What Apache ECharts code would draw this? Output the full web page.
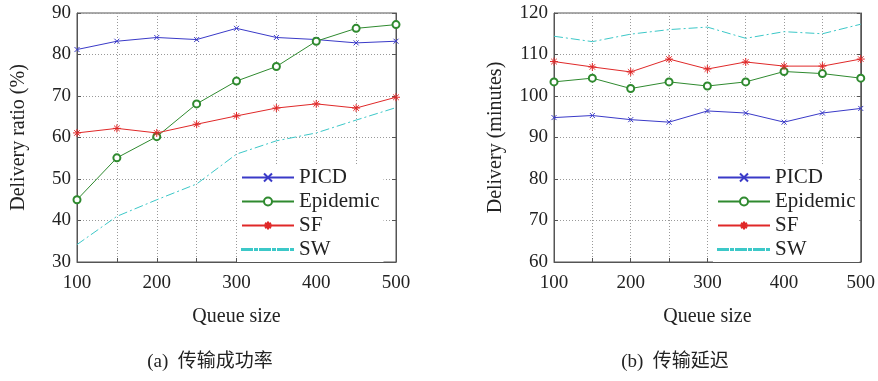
<!DOCTYPE html>
<html>
<head>
<meta charset="utf-8">
<script src="https://cdn.jsdelivr.net/npm/echarts@6/dist/echarts.min.js"></script>
<style>
  html, body { margin: 0; padding: 0; background: #fff; }
  #main { width: 878px; height: 381px; }
</style>
</head>
<body>
<div id="main"></div>
<script>
// queue sizes on the x axis
var queueSize = [100, 150, 200, 250, 300, 350, 400, 450, 500];
var seriesNames = ['PICD', 'Epidemic', 'SF', 'SW'];

// (a) delivery ratio (%)
var ratioPICD = [81.2, 83.2, 84.1, 83.6, 86.3, 84.1, 83.6, 82.8, 83.2];
var ratioEpidemic = [45.0, 55.1, 60.2, 68.1, 73.6, 77.1, 83.2, 86.3, 87.2];
var ratioSF = [61.1, 62.2, 61.1, 63.2, 65.2, 67.1, 68.1, 67.1, 69.7];
var ratioSW = [34.2, 41.0, 45.0, 48.8, 56.0, 59.2, 61.1, 64.2, 67.2];

// (b) delivery delay (minutes)
var delayPICD = [94.8, 95.3, 94.3, 93.7, 96.4, 95.9, 93.7, 95.9, 97.0];
var delayEpidemic = [103.4, 104.3, 101.8, 103.4, 102.4, 103.4, 105.9, 105.4, 104.3];
var delaySF = [108.3, 107.0, 105.8, 108.9, 106.5, 108.2, 107.2, 107.2, 108.9];
var delaySW = [114.4, 113.1, 114.9, 116.0, 116.6, 113.9, 115.5, 115.0, 117.3];

var font = '"Liberation Serif", "Times New Roman", serif';
var colors = { PICD: '#3a3ac8', Epidemic: '#2f8a2f', SF: '#e02828', SW: '#3cc8c8' };
var symbols = {
    PICD: 'path://M0,0L10,10M10,0L0,10',
    Epidemic: 'emptyCircle',
    SF: 'path://M5,0L5,10M0,5L10,5M1.5,1.5L8.5,8.5M8.5,1.5L1.5,8.5',
    SW: 'none'
};
var sizes = { PICD: 5, Epidemic: 7, SF: 8, SW: 0 };
// dash-dot sample for the SW legend entry (52 x 10 box)
var swIcon = 'path://M0,0M52,10M0,4.5h10v1h-10zM13,4.5h2v1h-2zM18,4.5h10v1h-10zM31,4.5h2v1h-2zM36,4.5h10v1h-10zM49,4.5h2v1h-2z';

function pairs(ys) {
    var out = [];
    for (var i = 0; i < queueSize.length; i++) out.push([queueSize[i], ys[i]]);
    return out;
}

function makeSeries(name, ys, idx) {
    var s = {
        name: name,
        type: 'line',
        xAxisIndex: idx,
        yAxisIndex: idx,
        data: pairs(ys),
        symbol: symbols[name],
        symbolSize: sizes[name],
        showSymbol: name !== 'SW',
        color: colors[name],
        lineStyle: { color: colors[name], width: 1 },
        itemStyle: { color: colors[name], borderColor: colors[name], borderWidth: 1 },
        emphasis: { disabled: true },
        animation: false
    };
    if (name === 'SW') s.lineStyle.type = [9, 3, 2, 3];
    return s;
}

var gridLine = { show: true, lineStyle: { color: '#999', type: [1, 2], width: 1 } };
var tickStyle = { show: true, inside: true, length: 4, lineStyle: { color: '#555' } };

function xAxis(idx) {
    return {
        gridIndex: idx, type: 'value', min: 100, max: 500, interval: 50,
        name: 'Queue size', nameLocation: 'middle', nameGap: 45,
        nameTextStyle: { fontFamily: font, fontSize: 20, color: '#222' },
        axisLine: { show: true, lineStyle: { color: '#555' } },
        axisTick: tickStyle,
        splitLine: gridLine,
        axisLabel: {
            fontFamily: font, fontSize: 19, color: '#222', margin: 12,
            formatter: function (v) { return v % 100 === 0 ? v : ''; }
        }
    };
}

function yAxis(idx, min, max, name) {
    return {
        gridIndex: idx, type: 'value', min: min, max: max, interval: 10,
        name: name, nameLocation: 'middle', nameGap: 48,
        nameTextStyle: { fontFamily: font, fontSize: 20, color: '#222' },
        axisLine: { show: true, lineStyle: { color: '#555' } },
        axisTick: tickStyle,
        splitLine: gridLine,
        axisLabel: { fontFamily: font, fontSize: 19, color: '#222', margin: 6 }
    };
}

// right-hand frame axis, only for the inward ticks
function yAxisRight(idx, min, max) {
    return {
        gridIndex: idx, type: 'value', min: min, max: max, interval: 10, position: 'right',
        axisLine: { show: true, lineStyle: { color: '#555' } },
        axisTick: tickStyle,
        splitLine: { show: false },
        axisLabel: { show: false }
    };
}

function legend(left) {
    return {
        data: ['PICD', 'Epidemic', 'SF', { name: 'SW', icon: swIcon }],
        orient: 'vertical',
        left: left, top: 165,
        backgroundColor: '#fff',
        padding: [2, 4, 2, 4],
        itemWidth: 52, itemHeight: 10, itemGap: 3,
        textStyle: { fontFamily: font, fontSize: 21, color: '#222', lineHeight: 21 },
        selectedMode: false
    };
}

var myChart = echarts.init(document.getElementById('main'), null, { renderer: 'canvas' });

var capFont = '"Liberation Serif", "Noto Sans CJK SC", serif';

var option = {
    backgroundColor: '#fff',
    animation: false,
    grid: [
        { left: 77, right: 482, top: 13, bottom: 119, show: true, borderColor: '#555', borderWidth: 1, backgroundColor: 'transparent' },
        { left: 554, right: 7, top: 13, bottom: 119, show: true, borderColor: '#555', borderWidth: 1, backgroundColor: 'transparent' }
    ],
    xAxis: [xAxis(0), xAxis(1)],
    yAxis: [
        yAxis(0, 30, 90, 'Delivery ratio (%)'),
        yAxis(1, 60, 120, 'Delivery (minutes)'),
        yAxisRight(0, 30, 90),
        yAxisRight(1, 60, 120)
    ],
    legend: [legend(237), legend(713)],
    title: [
        { text: '(a)  传输成功率', left: 205, top: 348, textAlign: 'center',
          textStyle: { fontFamily: capFont, fontSize: 19, fontWeight: 'normal', color: '#222' } },
        { text: '(b)  传输延迟', left: 670, top: 348, textAlign: 'center',
          textStyle: { fontFamily: capFont, fontSize: 19, fontWeight: 'normal', color: '#222' } }
    ],
    series: [
        makeSeries('PICD', ratioPICD, 0),
        makeSeries('Epidemic', ratioEpidemic, 0),
        makeSeries('SF', ratioSF, 0),
        makeSeries('SW', ratioSW, 0),
        makeSeries('PICD', delayPICD, 1),
        makeSeries('Epidemic', delayEpidemic, 1),
        makeSeries('SF', delaySF, 1),
        makeSeries('SW', delaySW, 1)
    ]
};

myChart.setOption(option);
</script>
</body>
</html>
